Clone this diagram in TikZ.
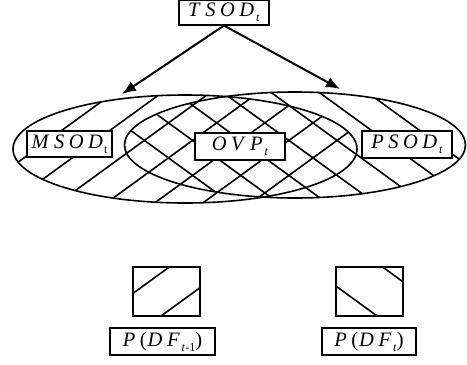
\documentclass[tikz,border=0pt]{standalone}
\usepackage{fontspec}
\setmainfont{Liberation Serif}
\usetikzlibrary{arrows.meta}
% spaced italic letters and a small lowered subscript
\newcommand{\ltr}[1]{\textit{#1}\kern4.5pt}
\newcommand{\subi}[1]{\raisebox{-5pt}{\fontsize{12}{12}\selectfont #1}}
\begin{document}
\begin{tikzpicture}[x=1pt,y=-1pt,
  lbl/.style={draw, fill=white, line width=1.1pt, inner sep=0pt,
    font=\fontsize{20.5}{20.5}\selectfont},
  rim/.style={line width=1.6pt},
  hatch/.style={line width=1.6pt},
  arr/.style={line width=2pt, -{Latex[length=14pt,width=11pt]}}]
\useasboundingbox (0,0) rectangle (467,365);

% diagonal hatching of the two sets
\begin{scope}
  \clip (185,149) ellipse [x radius=172, y radius=54];
  \foreach \k in {2,...,16}
    \draw[hatch] (0,{0.3+35*\k}) -- (467,{0.3+35*\k-339.3});
\end{scope}
\begin{scope}
  \clip (295,145) ellipse [x radius=170.5, y radius=53];
  \foreach \k in {-8,...,6}
    \draw[hatch] (0,{0.5+35*\k}) -- (467,{0.5+35*\k+339.3});
\end{scope}
\draw[rim] (185,149) ellipse [x radius=172, y radius=54];
\draw[rim] (295,145) ellipse [x radius=170.5, y radius=53];

% legend swatches
\begin{scope}
  \clip (133,267) rectangle (200,316);
  \draw[hatch] (0,390) -- (467,{390-339.3});
  \draw[hatch] (0,433) -- (467,{433-339.3});
\end{scope}
\draw[rim] (133,267) rectangle (200,316);
\begin{scope}
  \clip (336,267) rectangle (403,316);
  \draw[hatch] (0,42) -- (467,{42+339.3});
  \draw[hatch] (0,-11) -- (467,{-11+339.3});
\end{scope}
\draw[rim] (336,267) rectangle (403,316);

% labels
\node[lbl, minimum width=90pt, minimum height=25pt] (tsod) at (224,12.5)
  {\ltr{T}\ltr{S}\ltr{O}\textit{D}\kern2pt\subi{\textit{t}}};
\node[lbl, minimum width=85pt, minimum height=26pt] (msod) at (69.5,144)
  {\ltr{M}\ltr{S}\ltr{O}\textit{D}\kern1pt\subi{t}};
\node[lbl, minimum width=90pt, minimum height=27pt] (ovp) at (240,146.5)
  {\ltr{O}\ltr{V}\textit{P}\kern2pt\subi{\textit{t}}};
\node[lbl, minimum width=90pt, minimum height=27pt] (psod) at (407,144.5)
  {\ltr{P}\ltr{S}\ltr{O}\textit{D}\kern2pt\subi{\textit{t}}};
\node[lbl, minimum width=105pt, minimum height=27pt] (dfa) at (162.5,341.5)
  {\ltr{P}(\kern1pt\ltr{D}\textit{F}\kern2pt\subi{\textit{t}-1})};
\node[lbl, minimum width=94pt, minimum height=27pt] (dfb) at (369,341.5)
  {\ltr{P}(\kern1pt\ltr{D}\textit{F}\kern2pt\subi{\textit{t}})};

% arrows from the total set to both ellipses
\coordinate (mtop) at (122,94);
\coordinate (ptop) at (340,89);
\draw[arr] (tsod.south) -- (mtop);
\draw[arr] (tsod.south) -- (ptop);
\end{tikzpicture}
\end{document}
